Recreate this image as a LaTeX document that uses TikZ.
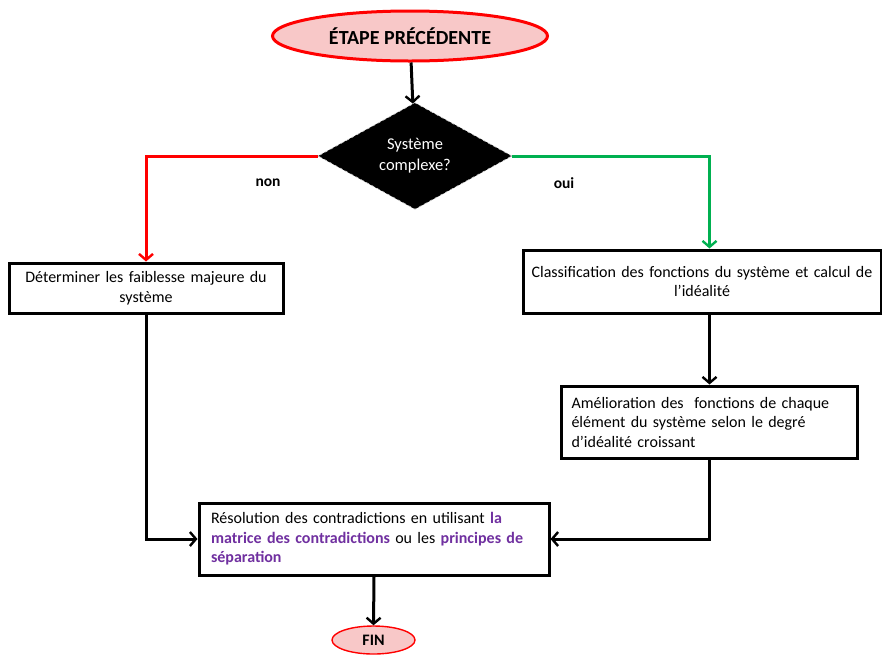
\documentclass[tikz,border=0pt]{standalone}
\usepackage{fontspec}
\setmainfont{Carlito}
\usetikzlibrary{arrows.meta,positioning,shapes.geometric}
\definecolor{nonred}{RGB}{255,0,0}
\definecolor{ouigreen}{RGB}{0,176,80}
\definecolor{keyviolet}{RGB}{112,48,160}
\definecolor{startpink}{RGB}{248,200,200}
\begin{document}
\begin{tikzpicture}[x=1pt,y=-1pt,
  every node/.style={font=\fontsize{16}{19.5}\selectfont},
  startend/.style={ellipse,draw=nonred,line width=3pt,fill=startpink,inner sep=0pt},
  decision/.style={diamond,draw=gray!35,dashed,line width=0.6pt,fill=black,text=white,
    inner sep=0pt,minimum width=194pt,minimum height=84pt,align=center,
    font=\fontsize{16.5}{21}\selectfont},
  stepbox/.style={rectangle,draw,line width=3pt,fill=white,inner sep=6pt},
  flow/.style={-{Straight Barb[length=6pt,width=14pt,line width=2.4pt]},line width=3pt},
  answer/.style={font=\fontsize{15.5}{18}\selectfont\bfseries}]
  \path[use as bounding box] (0,0) rectangle (882,654);
  % Start and decision.
  \node[startend,minimum width=275pt,minimum height=50pt,font=\fontsize{20}{22}\selectfont\bfseries]
    (start) at (410,36) {ÉTAPE PRÉCÉDENTE};
  \node[decision] (complexe) at (415,156) {Système\\complexe?};
  \node[answer] (non) at (268,183) {non};
  \node[answer] (oui) at (564,183) {oui};

  % Steps.
  \node[stepbox,minimum width=272pt,minimum height=50pt,text width=262pt,align=center]
    (faiblesse) at (146,288) {Déterminer les faiblesse majeure du\\système};
  \node[stepbox,minimum width=357pt,minimum height=63pt,text width=346pt,align=center]
    (classif) at (702,281.5) {Classification des fonctions du système et calcul de\\l’idéalité};
  \node[stepbox,inner xsep=10pt,minimum width=295pt,minimum height=72pt,text width=276pt,align=left]
    (amelior) at (709.5,422) {Amélioration des\ \ fonctions de chaque\\élément du système selon le degré\\d’idéalité croissant};
  \node[stepbox,inner xsep=12pt,minimum width=348pt,minimum height=72pt,text width=326pt,align=left]
    (resolution) at (374,539) {Résolution des contradictions en utilisant
      \textcolor{keyviolet}{\textbf{la}}\\\textcolor{keyviolet}{\textbf{matrice des contradictions}}
      ou les \textcolor{keyviolet}{\textbf{principes de}}\\\textcolor{keyviolet}{\textbf{séparation}}};
  \node[startend,line width=1.4pt,minimum width=83pt,minimum height=28pt,
    font=\fontsize{16}{18}\selectfont\bfseries] (fin) at (373.5,640) {FIN};

  % Connectors.
  \draw[flow] (start) -- (complexe);
  \draw[flow,nonred] (complexe.west) -| (faiblesse.north);
  \draw[flow,ouigreen] (complexe.east) -| (amelior.north |- classif.north);
  \draw[flow] (amelior.north |- classif.south) -- (amelior.north);
  \draw[flow] (faiblesse.south) |- (resolution.west);
  \draw[flow] (amelior.south) |- (resolution.east);
  \draw[flow] (resolution.south) -- (fin.north);
\end{tikzpicture}
\end{document}
